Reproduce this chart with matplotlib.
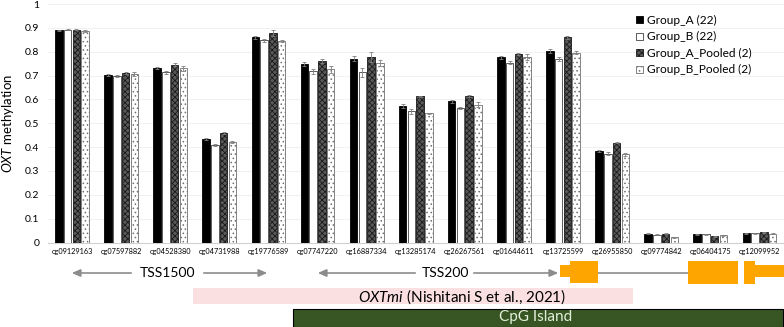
import matplotlib
matplotlib.use("Agg")
import matplotlib.pyplot as plt
import numpy as np
from matplotlib.patches import Rectangle

plt.rcParams['font.family'] = ['Lato', 'DejaVu Sans']
plt.rcParams['mathtext.fontset'] = 'custom'
plt.rcParams['mathtext.it'] = 'Lato:italic'
plt.rcParams['mathtext.rm'] = 'Lato'
plt.rcParams['hatch.linewidth'] = 0.6

categories = ['cg09129163', 'cg07597882', 'cg04528380', 'cg04731988', 'cg19776589',
              'cg07747220', 'cg16887334', 'cg13285174', 'cg26267561', 'cg01644611',
              'cg13725599', 'cg26955850', 'cg09774842', 'cg06404175', 'cg12099952']
series_names = ['Group_A (22)', 'Group_B (22)', 'Group_A_Pooled (2)', 'Group_B_Pooled (2)']
group_a = [0.890, 0.703, 0.733, 0.435, 0.860, 0.748, 0.770, 0.574, 0.592, 0.776, 0.804, 0.383, 0.036, 0.034, 0.038]
group_b = [0.893, 0.697, 0.713, 0.410, 0.847, 0.718, 0.713, 0.550, 0.564, 0.754, 0.770, 0.373, 0.032, 0.034, 0.038]
group_a_pooled = [0.893, 0.710, 0.745, 0.460, 0.878, 0.760, 0.778, 0.614, 0.614, 0.790, 0.860, 0.419, 0.037, 0.027, 0.042]
group_b_pooled = [0.888, 0.708, 0.730, 0.420, 0.843, 0.727, 0.753, 0.542, 0.578, 0.777, 0.796, 0.370, 0.022, 0.030, 0.037]
err_a = [0.003, 0.004, 0.004, 0.004, 0.006, 0.008, 0.010, 0.008, 0.005, 0.008, 0.009, 0.004, 0.002, 0.002, 0.002]
err_b = [0.002, 0.005, 0.005, 0.005, 0.007, 0.010, 0.020, 0.010, 0.004, 0.006, 0.007, 0.005, 0.002, 0.002, 0.002]
err_ap = [0.002, 0.003, 0.006, 0.003, 0.012, 0.008, 0.022, 0.002, 0.003, 0.004, 0.005, 0.002, 0.002, 0.002, 0.002]
err_bp = [0.004, 0.008, 0.010, 0.004, 0.004, 0.015, 0.012, 0.003, 0.010, 0.012, 0.006, 0.006, 0.002, 0.002, 0.002]

values = [group_a, group_b, group_a_pooled, group_b_pooled]
errors = [err_a, err_b, err_ap, err_bp]
faces = ['black', 'white', '#5a5a5a', 'white']
edges = ['black', '#404040', '#1a1a1a', '#707070']
hatches = [None, None, 'xxxxxx', '....']

fig = plt.figure(figsize=(7.84, 3.27), dpi=100)
ax = fig.add_axes([47.5 / 784, 1 - 242.5 / 327, (784 - 47.5) / 784, (242.5 - 4) / 327])

x = np.arange(len(categories))
w = 0.153
step = 0.178
handles = []
for k in range(4):
    pos = x + (k - 1.5) * step
    b = ax.bar(pos, values[k], width=w, color=faces[k], edgecolor=edges[k],
               hatch=hatches[k], linewidth=0.6, zorder=3, label=series_names[k])
    ax.errorbar(pos, values[k], yerr=errors[k], fmt='none', ecolor='#808080',
                elinewidth=0.6, capsize=1.5, capthick=0.6, zorder=4)
    handles.append(b)

ax.set_xlim(-0.5, len(categories) - 0.5)
ax.set_ylim(0, 1)
ax.set_yticks(np.arange(0, 1.01, 0.1))
ax.set_yticklabels(['0', '0.1', '0.2', '0.3', '0.4', '0.5', '0.6', '0.7', '0.8', '0.9', '1'], fontsize=7.5)
ax.set_xticks(x)
ax.set_xticklabels(categories, fontsize=5.3)
ax.tick_params(axis='both', length=0, pad=6)
ax.tick_params(axis='x', pad=4)
ax.yaxis.grid(True, color='#ececec', linewidth=0.5, zorder=0)
for s in ['top', 'right', 'left']:
    ax.spines[s].set_visible(False)
ax.spines['bottom'].set_color('#d0d0d0')
ax.spines['bottom'].set_linewidth(0.8)
ax.set_ylabel(r'$\it{OXT}$ methylation', fontsize=9.5, labelpad=6)

leg = ax.legend(handles=handles, loc='upper left', bbox_to_anchor=(0.793, 0.975),
                frameon=False, fontsize=8.6, handlelength=0.55, handleheight=0.55,
                handletextpad=0.35, labelspacing=0.46, borderaxespad=0)

# annotation overlay in pixel coordinates
ov = fig.add_axes([0, 0, 1, 1], zorder=5)
ov.set_xlim(0, 784)
ov.set_ylim(327, 0)
ov.axis('off')

arrow_kw = dict(arrowstyle='-|>,head_length=0.5,head_width=0.22', color='#8c8c8c', lw=1.2)
ov.annotate('', xy=(69, 273), xytext=(134, 273), arrowprops=arrow_kw)
ov.annotate('', xy=(270, 273), xytext=(201, 273), arrowprops=arrow_kw)
ov.text(168, 273, 'TSS1500', ha='center', va='center', fontsize=10, color='black')
ov.annotate('', xy=(315, 273), xytext=(418, 273), arrowprops=arrow_kw)
ov.annotate('', xy=(561, 273), xytext=(471, 273), arrowprops=arrow_kw)
ov.text(445, 273, 'TSS200', ha='center', va='center', fontsize=10, color='black')

# gene structure
orange = '#ffa500'
ov.plot([598, 688], [273, 273], color='#8c8c8c', lw=1.2, zorder=1)
ov.add_patch(Rectangle((560, 265), 11, 12, facecolor=orange, edgecolor='none', zorder=2))
ov.add_patch(Rectangle((570, 261), 28, 22, facecolor=orange, edgecolor='none', zorder=2))
ov.add_patch(Rectangle((688, 261), 50, 23, facecolor=orange, edgecolor='none', zorder=2))
ov.add_patch(Rectangle((744, 261), 11, 23, facecolor=orange, edgecolor='none', zorder=2))
ov.add_patch(Rectangle((754, 265), 30, 12, facecolor=orange, edgecolor='none', zorder=2))

# OXTmi band
ov.add_patch(Rectangle((193, 288), 440, 16, facecolor='#fbe0e1', edgecolor='none', zorder=1))
ov.text(462, 296.5, r'$\it{OXTmi}$ (Nishitani S et al., 2021)', ha='center', va='center',
        fontsize=11, color='black', zorder=3)

# CpG island
ov.add_patch(Rectangle((293, 309), 490, 17.5, facecolor='#375623', edgecolor='black', lw=0.8, zorder=1))
ov.text(536, 317.5, 'CpG Island', ha='center', va='center', fontsize=11, color='#e2efda', zorder=3)

fig.savefig('out.png', dpi=100)
